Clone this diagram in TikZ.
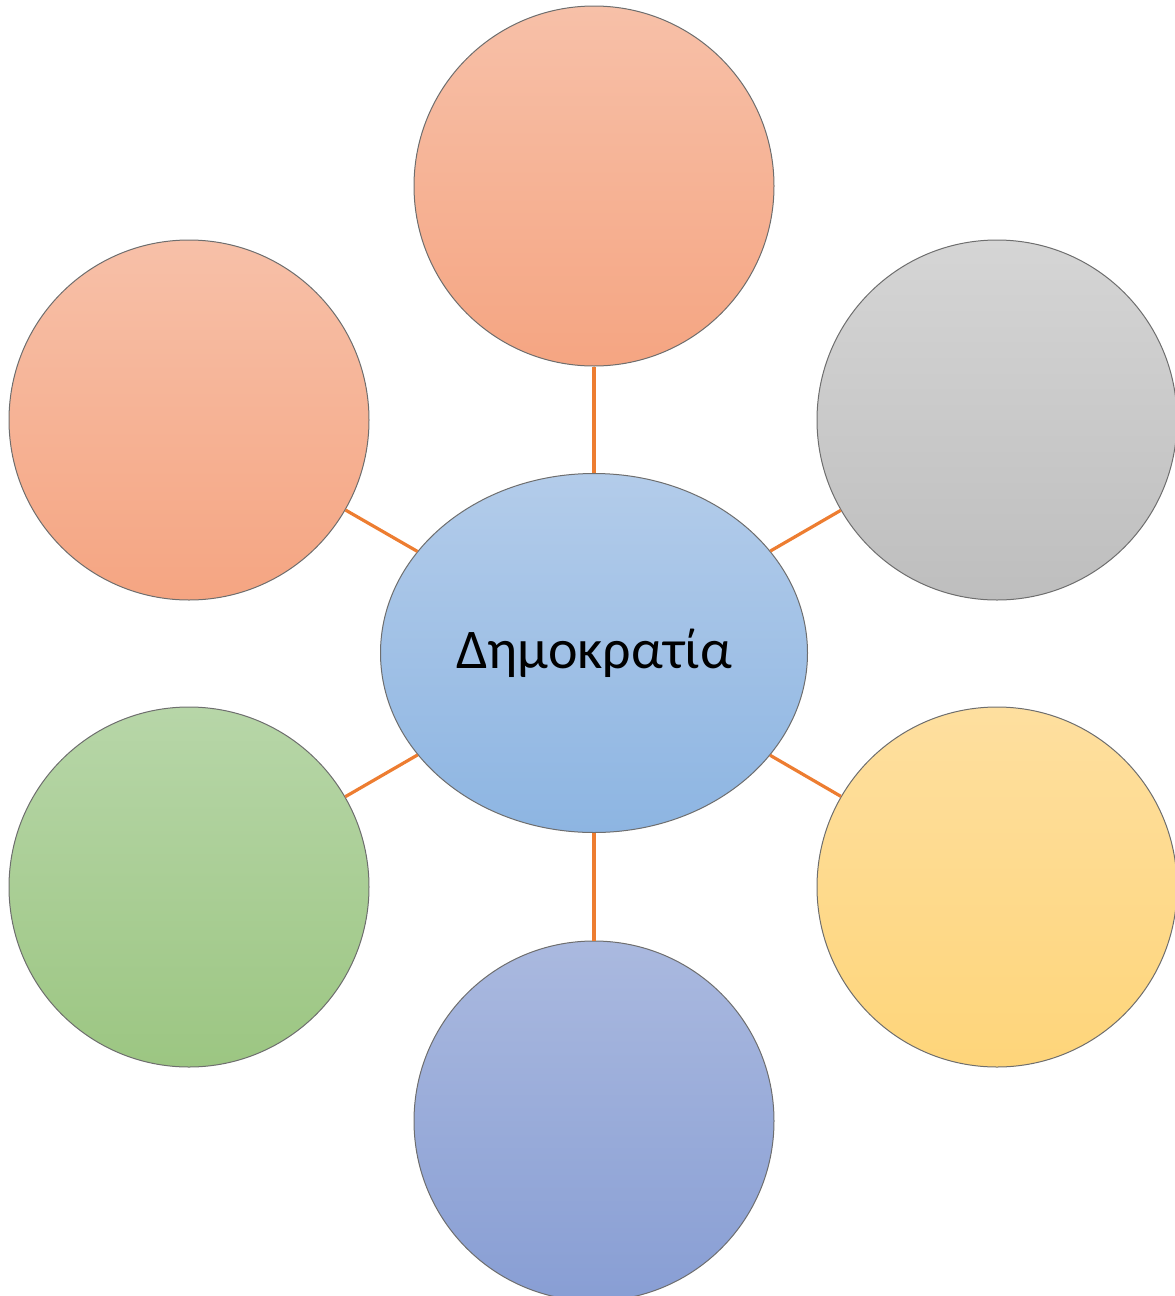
\documentclass[tikz,border=0pt]{standalone}
\usepackage{fontspec}
\setmainfont{Carlito}
\usetikzlibrary{shapes.geometric}
\definecolor{linkor}{RGB}{237,125,49}
\definecolor{rim}{RGB}{110,110,110}
\definecolor{orT}{RGB}{247,192,168}\definecolor{orB}{RGB}{245,165,130}
\definecolor{grT}{RGB}{213,213,213}\definecolor{grB}{RGB}{190,190,190}
\definecolor{ylT}{RGB}{254,223,159}\definecolor{ylB}{RGB}{254,213,122}
\definecolor{gnT}{RGB}{183,214,168}\definecolor{gnB}{RGB}{156,198,130}
\definecolor{blT}{RGB}{170,185,223}\definecolor{blB}{RGB}{136,158,212}
\definecolor{ceT}{RGB}{179,204,234}\definecolor{ceB}{RGB}{141,181,226}
\tikzset{
  bubble/.style={circle,draw=rim,line width=1pt,minimum size=360pt,inner sep=0pt,shading=axis},
  hub/.style={ellipse,draw=rim,line width=1pt,minimum width=427pt,minimum height=359pt,inner sep=0pt,shading=axis,font=\fontsize{56}{67}\selectfont},
  link/.style={draw=linkor,line width=3.2pt}
}
\begin{document}
\begin{tikzpicture}[x=1pt,y=-1pt]
\useasboundingbox (0,0) rectangle (1175,1296);
\clip (0,0) rectangle (1175,1296);
\node[hub,top color=ceT,bottom color=ceB] (c) at (594,653) {Δημοκρατία};
\node[bubble,top color=orT,bottom color=orB] (t) at (594,186) {};
\node[bubble,top color=orT,bottom color=orB] (ul) at (189,420) {};
\node[bubble,top color=grT,bottom color=grB] (ur) at (997,420) {};
\node[bubble,top color=gnT,bottom color=gnB] (ll) at (189,887) {};
\node[bubble,top color=ylT,bottom color=ylB] (lr) at (997,887) {};
\node[bubble,top color=blT,bottom color=blB] (b) at (594,1121) {};
\draw[link] (c) -- (t);
\draw[link] (c) -- (ul);
\draw[link] (c) -- (ur);
\draw[link] (c) -- (ll);
\draw[link] (c) -- (lr);
\draw[link] (c) -- (b);
\end{tikzpicture}
\end{document}
